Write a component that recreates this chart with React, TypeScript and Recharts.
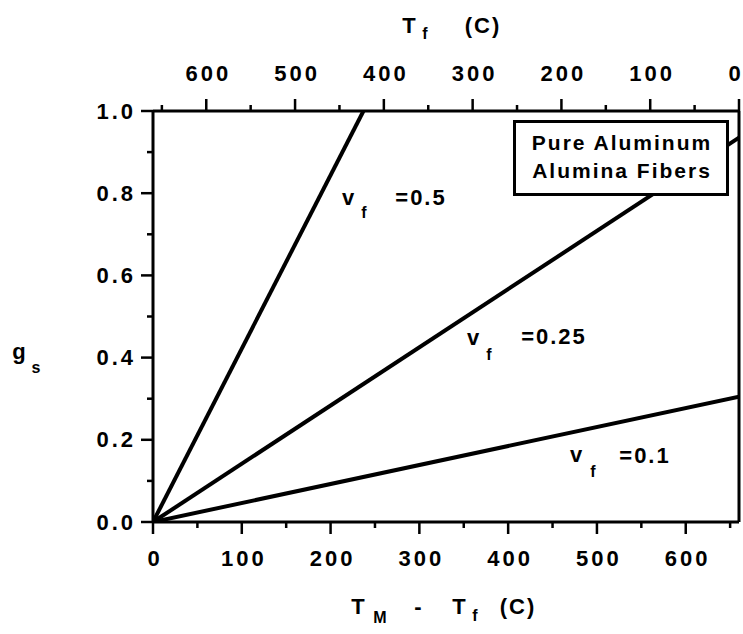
import React from 'react';
import { LineChart, Line, XAxis, YAxis, ReferenceLine } from 'recharts';

const W = 743;
const H = 634;
const X_MAX = 660; // T_M of pure aluminum, so T_f = X_MAX - (T_M - T_f)

// each line: T_M - T_f and g_s at its two ends
const vf05X = [0, 237];
const vf05G = [0, 1.0];
const vf025X = [0, 660];
const vf025G = [0, 0.935];
const vf01X = [0, 660];
const vf01G = [0, 0.305];

const bottomTicks = [0, 50, 100, 150, 200, 250, 300, 350, 400, 450, 500, 550, 600, 650];
const bottomLabels = [0, 100, 200, 300, 400, 500, 600];
const topTicksTf = [650, 600, 550, 500, 450, 400, 350, 300, 250, 200, 150, 100, 50, 0];
const topLabelsTf = [600, 500, 400, 300, 200, 100, 0];
const yTicks = [0, 0.1, 0.2, 0.3, 0.4, 0.5, 0.6, 0.7, 0.8, 0.9, 1.0];
const yLabels = [0, 0.2, 0.4, 0.6, 0.8, 1.0];

const toRows = (xs: number[], gs: number[]) => xs.map((x, i) => ({ x, g: gs[i] }));

const FONT = '"Liberation Sans", Arial, sans-serif';
const txt: React.CSSProperties = { fontFamily: FONT, fontWeight: 700, fontSize: 21, letterSpacing: 2 };
const tickTxt: React.CSSProperties = { ...txt, fontSize: 22, letterSpacing: 3 };

const BottomTick = ({ x, y, payload }: any) => {
  const v = payload.value;
  const major = bottomLabels.includes(v);
  return (
    <g>
      <line x1={x} y1={y} x2={x} y2={y + (major ? 12 : 6)} stroke="#000" strokeWidth={2.5} />
      {major && (
        <text x={x + 2} y={y + 36} textAnchor="middle" dominantBaseline="central" style={tickTxt}>{v}</text>
      )}
    </g>
  );
};

const TopTick = ({ x, y, payload }: any) => {
  const tf = Math.round(X_MAX - payload.value);
  const major = topLabelsTf.includes(tf);
  return (
    <g>
      <line x1={x} y1={y} x2={x} y2={y - (major ? 12 : 6)} stroke="#000" strokeWidth={2.5} />
      {major && (
        <text x={tf === 0 ? x - 3 : x + 2} y={y - 38} textAnchor="middle" dominantBaseline="central" style={tickTxt}>{tf}</text>
      )}
    </g>
  );
};

const LeftTick = ({ x, y, payload }: any) => {
  const v = payload.value;
  const major = yLabels.some(l => Math.abs(l - v) < 1e-6);
  return (
    <g>
      <line x1={x} y1={y} x2={x - (major ? 12 : 6)} y2={y} stroke="#000" strokeWidth={2.5} />
      {major && (
        <text x={x - 17} y={y} textAnchor="end" dominantBaseline="central" style={tickTxt}>{v.toFixed(1)}</text>
      )}
    </g>
  );
};

const At = ({ x, y, children, size = 22 }: any) => (
  <span style={{ ...txt, fontSize: size, position: 'absolute', left: x, top: y, transform: 'translate(-50%, -50%)', whiteSpace: 'nowrap', lineHeight: 1 }}>
    {children}
  </span>
);

export default function App() {
  return (
    <div style={{ position: 'absolute', left: 0, top: 0, width: W, height: H, background: '#fff' }}>
      <LineChart width={W} height={H} margin={{ top: 61, right: 4, bottom: 52, left: 93 }}>
        <XAxis
          dataKey="x"
          type="number"
          domain={[0, X_MAX]}
          ticks={bottomTicks}
          interval={0}
          height={60}
          tickSize={0}
          tickMargin={0}
          tickLine={false}
          tick={<BottomTick />}
          axisLine={{ stroke: '#000', strokeWidth: 3 }}
          allowDataOverflow
        />
        <XAxis
          xAxisId="top"
          orientation="top"
          dataKey="x"
          type="number"
          domain={[0, X_MAX]}
          ticks={topTicksTf.map(t => X_MAX - t)}
          interval={0}
          height={50}
          tickSize={0}
          tickMargin={0}
          tickLine={false}
          tick={<TopTick />}
          axisLine={{ stroke: '#000', strokeWidth: 3 }}
          allowDataOverflow
        />
        <YAxis
          type="number"
          domain={[0, 1]}
          ticks={yTicks}
          interval={0}
          width={60}
          tickSize={0}
          tickMargin={0}
          tickLine={false}
          tick={<LeftTick />}
          axisLine={{ stroke: '#000', strokeWidth: 3 }}
          allowDataOverflow
        />
        <ReferenceLine x={X_MAX} stroke="#000" strokeWidth={3} />
        <Line data={toRows(vf05X, vf05G)} dataKey="g" stroke="#000" strokeWidth={4} dot={false} isAnimationActive={false} />
        <Line data={toRows(vf025X, vf025G)} dataKey="g" stroke="#000" strokeWidth={4} dot={false} isAnimationActive={false} />
        <Line data={toRows(vf01X, vf01G)} dataKey="g" stroke="#000" strokeWidth={4} dot={false} isAnimationActive={false} />
      </LineChart>

      {/* top axis title: T_f (C) */}
      <At x={410} y={26}>T</At>
      <At x={426} y={34} size={16}>f</At>
      <At x={483} y={26}>(C)</At>

      {/* bottom axis title: T_M - T_f (C) */}
      <At x={359} y={607}>T</At>
      <At x={381} y={618} size={16}>M</At>
      <At x={419} y={607}>-</At>
      <At x={460} y={607}>T</At>
      <At x={476} y={616} size={16}>f</At>
      <At x={518} y={607}>(C)</At>

      {/* y title: g_s */}
      <At x={20} y={352}>g</At>
      <At x={37} y={368} size={16}>s</At>

      {/* line labels */}
      <At x={349} y={198}>v</At>
      <At x={365} y={213} size={16}>f</At>
      <At x={421} y={198}>=0.5</At>

      <At x={474} y={338}>v</At>
      <At x={490} y={355} size={16}>f</At>
      <At x={554} y={337}>=0.25</At>

      <At x={577} y={455}>v</At>
      <At x={594} y={472} size={16}>f</At>
      <At x={645} y={456}>=0.1</At>

      {/* legend box */}
      <div style={{ position: 'absolute', left: 513, top: 120, width: 210, height: 70, border: '3px solid #000', background: '#fff' }} />
      <At x={622} y={142} size={21}>Pure Aluminum</At>
      <At x={622} y={170} size={21}>Alumina Fibers</At>
    </div>
  );
}
